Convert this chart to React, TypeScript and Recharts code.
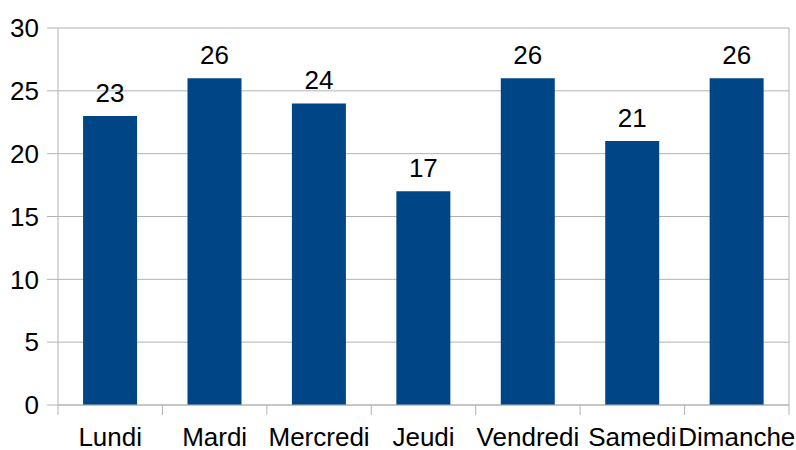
import { BarChart, Bar, XAxis, YAxis, CartesianGrid, LabelList } from 'recharts';

const days = ['Lundi', 'Mardi', 'Mercredi', 'Jeudi', 'Vendredi', 'Samedi', 'Dimanche'];
const values = [23, 26, 24, 17, 26, 21, 26];
const yTicks = [0, 5, 10, 15, 20, 25, 30];

const data = days.map((day, i) => ({ day, value: values[i] }));

const GRID = '#b3b3b3';
const FONT = '"Liberation Sans", Arial, sans-serif';
const X_TICK_SIZE = 10;
const X_TICK_MARGIN = 13;

function DayTick(props: any) {
  const { x, y, payload, index, visibleTicksCount, width } = props;
  const half = payload && payload.offset ? payload.offset : width / visibleTicksCount / 2;
  const axisY = y - X_TICK_SIZE - X_TICK_MARGIN;
  return (
    <g>
      <line x1={x - half} x2={x - half} y1={axisY} y2={axisY + X_TICK_SIZE} stroke={GRID} />
      {index === visibleTicksCount - 1 && (
        <line x1={x + half} x2={x + half} y1={axisY} y2={axisY + X_TICK_SIZE} stroke={GRID} />
      )}
      <text x={x} y={y} dy="0.71em" textAnchor="middle" fill="#000" fontSize={26} fontFamily={FONT}>
        {payload.value}
      </text>
    </g>
  );
}

export default function App() {
  return (
    <div style={{ position: 'absolute', left: 0, top: 0, background: '#fff' }}>
      <BarChart
        width={796}
        height={450}
        data={data}
        margin={{ top: 28, right: 7, left: 0, bottom: 0 }}
        barCategoryGap="24%"
      >
        <CartesianGrid
          stroke={GRID}
          horizontal={true}
          vertical={true}
          verticalCoordinatesGenerator={({ offset }: any) => [offset.left + offset.width]}
        />
        <XAxis
          dataKey="day"
          height={45}
          axisLine={{ stroke: GRID }}
          tickLine={false}
          tickSize={X_TICK_SIZE}
          tickMargin={X_TICK_MARGIN}
          interval={0}
          tick={<DayTick />}
        />
        <YAxis
          width={58}
          domain={[0, 30]}
          ticks={yTicks}
          interval={0}
          axisLine={{ stroke: GRID }}
          tickLine={{ stroke: GRID }}
          tickSize={11}
          tickMargin={8}
          tick={{ fill: '#000', fontSize: 26, fontFamily: FONT }}
        />
        <Bar dataKey="value" fill="#004586" isAnimationActive={false}>
          <LabelList
            dataKey="value"
            position="top"
            offset={14}
            fill="#000"
            fontSize={26}
            fontFamily={FONT}
          />
        </Bar>
      </BarChart>
    </div>
  );
}
